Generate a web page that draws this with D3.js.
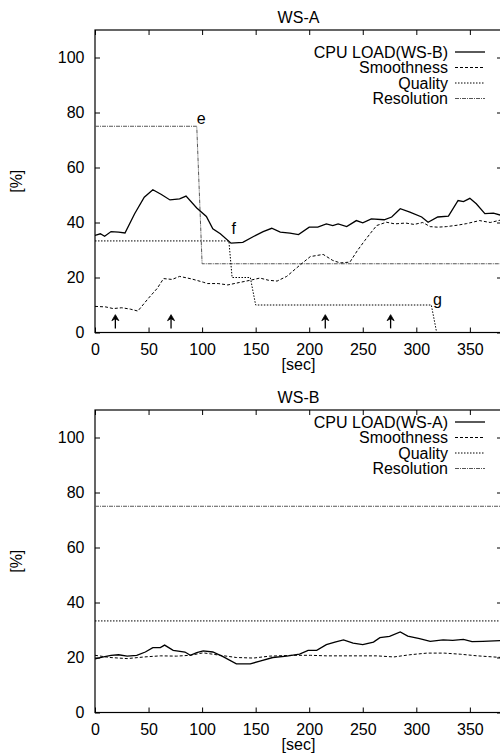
<!DOCTYPE html>
<html><head><meta charset="utf-8">
<script src="https://cdn.jsdelivr.net/npm/d3@7"></script>
<style>
body{margin:0;background:#fff;}
text{font-family:"Liberation Sans",Arial,Helvetica,sans-serif;fill:#000;}
</style></head>
<body><div id="chart"></div>
<script>
// ---------- data ----------
const xTicks = [0, 50, 100, 150, 200, 250, 300, 350];
const yTicks = [0, 20, 40, 60, 80, 100];
const seriesNames = ["Smoothness", "Quality", "Resolution"];

// Panel WS-A
const wsA_title = "WS-A";
const wsA_cpuName = "CPU LOAD(WS-B)";
const wsA_cpu = [[0,35.3],[5,35.9],[9,35],[15,36.7],[22,36.5],[28,36.2],[37,43.2],[46,49.2],[54,51.9],[62,50.2],[70,48.2],[79,48.6],[85,49.6],[95,45.3],[104,42.2],[110,37.7],[117,35.9],[127,32.5],[138,32.8],[148,34.9],[157,36.7],[165,37.9],[173,36.5],[182,36.1],[190,35.6],[200,38.3],[208,38.3],[216,39.5],[222,38.9],[227,39.5],[235,38.5],[244,40.7],[250,39.9],[258,41.3],[270,41],[277,42],[285,45],[294,43.8],[305,42],[311,40.1],[320,42],[330,42.3],[339,48],[344,47.6],[350,48.8],[356,46.8],[364,43.2],[372,43.4],[380,42.5]];
const wsA_smooth = [[0,9.5],[10,9.3],[17,8.7],[25,9],[33,8.5],[40,7.8],[50,12.5],[58,16],[64,19.6],[72,19.3],[79,20.4],[90,19.5],[101,18.3],[105,17.8],[115,17.8],[124,17.3],[135,18.2],[145,19],[154,19.8],[162,19],[170,18.7],[179,20.4],[191,24.4],[201,27.6],[207,28],[213,28.4],[222,26.2],[229,25.3],[238,25.6],[245,29.8],[252,33.5],[258,36.5],[263,38.9],[272,40.1],[280,39.5],[290,39.8],[298,39.3],[306,40],[313,38.5],[320,38.3],[328,38.5],[338,39],[347,39.6],[359,40.7],[369,40],[380,41]];
const wsA_quality = [[0,33.3],[125,33.3],[128,20],[145,20],[150,10],[314,10],[319,0],[380,0]];
const wsA_resolution = [[0,75],[95,75],[100,25],[380,25]];
const wsA_arrows = [19, 71, 215, 276];
const wsA_marks = [["e",95,78],["f",127.5,38],["g",315.5,12]];

// Panel WS-B
const wsB_title = "WS-B";
const wsB_cpuName = "CPU LOAD(WS-A)";
const wsB_cpu = [[0,19.5],[8,20.2],[15,20.8],[22,21],[30,20.5],[39,20.8],[47,22],[54,23.6],[61,23.6],[65,24.5],[73,22.6],[84,22],[89,20.8],[95,21.8],[101,22.4],[110,22],[120,20.2],[132,17.7],[145,17.7],[154,18.7],[166,20],[179,20.5],[191,21.2],[199,22.6],[207,22.6],[216,24.7],[224,25.6],[232,26.4],[241,25.2],[250,24.7],[260,25.6],[266,27.2],[275,27.7],[285,29.3],[292,27.8],[303,26.9],[313,25.9],[325,26.4],[334,26.2],[344,26.6],[352,25.8],[362,25.9],[380,26.2]];
const wsB_smooth = [[0,20.8],[14,20],[30,19.6],[46,20.2],[61,20.6],[76,20.5],[89,20.8],[101,21.7],[117,20.8],[132,20],[148,19.8],[163,20.5],[185,20.8],[201,20.8],[216,20.6],[247,20.6],[263,20.6],[279,20.2],[294,21],[310,21.6],[326,21.6],[341,21.2],[357,20.6],[372,20.2],[380,20]];
const wsB_quality = [[0,33.3],[380,33.3]];
const wsB_resolution = [[0,75],[380,75]];

// ---------- drawing ----------
const W = 500, H = 753;
const svg = d3.select("#chart").append("svg").attr("width", W).attr("height", H);

const styles = {
  cpu: {stroke:"#000", width:1.3, dash:null},
  smooth: {stroke:"#000", width:1, dash:"3,2"},
  quality: {stroke:"#000", width:1, dash:"1.5,1.5"},
  resolution: {stroke:"#555", width:1, dash:"4,1,1,1"}
};

function panel(cfg) {
  const left = 95, right = 502, top = cfg.top, bottom = cfg.top + 302.5;
  const x = d3.scaleLinear().domain([0, 380]).range([left, right]);
  const y = d3.scaleLinear().domain([0, 110]).range([bottom, top]);
  const g = svg.append("g");

  g.append("text").attr("x", (left + right) / 2).attr("y", top - 7)
    .attr("text-anchor", "middle").attr("font-size", 16).text(cfg.title);

  const ax = (gen, tx, ty) => {
    const a = g.append("g").attr("transform", `translate(${tx},${ty})`).call(gen);
    a.select(".domain").remove();
    a.selectAll("line").attr("stroke", "#000");
    a.selectAll("text").attr("font-size", 16).attr("font-family", '"Liberation Sans",Arial,sans-serif').attr("fill", "#000");
    return a;
  };
  ax(d3.axisBottom(x).tickValues(xTicks).tickSize(-5).tickPadding(11), 0, bottom);
  ax(d3.axisTop(x).tickValues(xTicks).tickSize(-5).tickFormat(""), 0, top);
  ax(d3.axisLeft(y).tickValues(yTicks).tickSize(-5).tickPadding(10.5), left, 0);
  ax(d3.axisRight(y).tickValues(yTicks).tickSize(-5).tickFormat(""), right, 0);

  g.append("rect").attr("x", left).attr("y", top).attr("width", right - left).attr("height", bottom - top)
    .attr("fill", "none").attr("stroke", "#000").attr("stroke-width", 1.2);

  g.append("text").attr("transform", `translate(16,${(top + bottom) / 2}) rotate(-90)`)
    .attr("text-anchor", "middle").attr("dy", "0.35em").attr("font-size", 16).text("[%]");
  g.append("text").attr("x", (left + right) / 2).attr("y", bottom + 37.5)
    .attr("text-anchor", "middle").attr("font-size", 16).text("[sec]");

  const line = d3.line().x(d => x(d[0])).y(d => y(d[1]));
  const clip = "clip" + cfg.title;
  g.append("clipPath").attr("id", clip).append("rect").attr("x", left).attr("y", top).attr("width", right - left).attr("height", bottom - top);
  const data = [["resolution", cfg.resolution], ["quality", cfg.quality], ["smooth", cfg.smooth], ["cpu", cfg.cpu]];
  data.forEach(([k, d]) => {
    const s = styles[k];
    g.append("path").datum(d).attr("d", line).attr("fill", "none")
      .attr("clip-path", `url(#${clip})`)
      .attr("stroke", s.stroke).attr("stroke-width", s.width)
      .attr("stroke-dasharray", s.dash);
  });

  // legend
  const names = [cfg.cpuName].concat(seriesNames);
  const keys = ["cpu", "smooth", "quality", "resolution"];
  names.forEach((n, i) => {
    const ly = cfg.legendY[i];
    g.append("text").attr("x", 448).attr("y", ly).attr("dy", "0.35em")
      .attr("text-anchor", "end").attr("font-size", 16).text(n);
    const s = styles[keys[i]];
    g.append("line").attr("x1", 455).attr("x2", 485).attr("y1", ly).attr("y2", ly)
      .attr("stroke", s.stroke).attr("stroke-width", s.width).attr("stroke-dasharray", s.dash);
  });

  // arrows
  (cfg.arrows || []).forEach(t => {
    const ax0 = x(t), yb = y(1.5), yt = y(6.5);
    g.append("line").attr("x1", ax0).attr("x2", ax0).attr("y1", yb).attr("y2", yt + 2)
      .attr("stroke", "#000").attr("stroke-width", 1.3);
    g.append("path").attr("d", `M${ax0 - 3.5},${yt + 6} L${ax0},${yt} L${ax0 + 3.5},${yt + 6} L${ax0},${yt + 4} Z`)
      .attr("fill", "#000").attr("stroke", "#000").attr("stroke-width", 0.8);
  });
  (cfg.marks || []).forEach(([m, t, v]) => {
    g.append("text").attr("x", x(t)).attr("y", y(v)).attr("dy", "0.35em")
      .attr("font-size", 16).text(m);
  });
}

panel({top: 30, title: wsA_title, cpuName: wsA_cpuName, cpu: wsA_cpu, smooth: wsA_smooth,
  quality: wsA_quality, resolution: wsA_resolution, arrows: wsA_arrows, marks: wsA_marks,
  legendY: [52, 67.5, 83, 98.5]});
panel({top: 410, title: wsB_title, cpuName: wsB_cpuName, cpu: wsB_cpu, smooth: wsB_smooth,
  quality: wsB_quality, resolution: wsB_resolution, arrows: [], marks: [],
  legendY: [422, 437.5, 453, 468.5]});
</script></body></html>
